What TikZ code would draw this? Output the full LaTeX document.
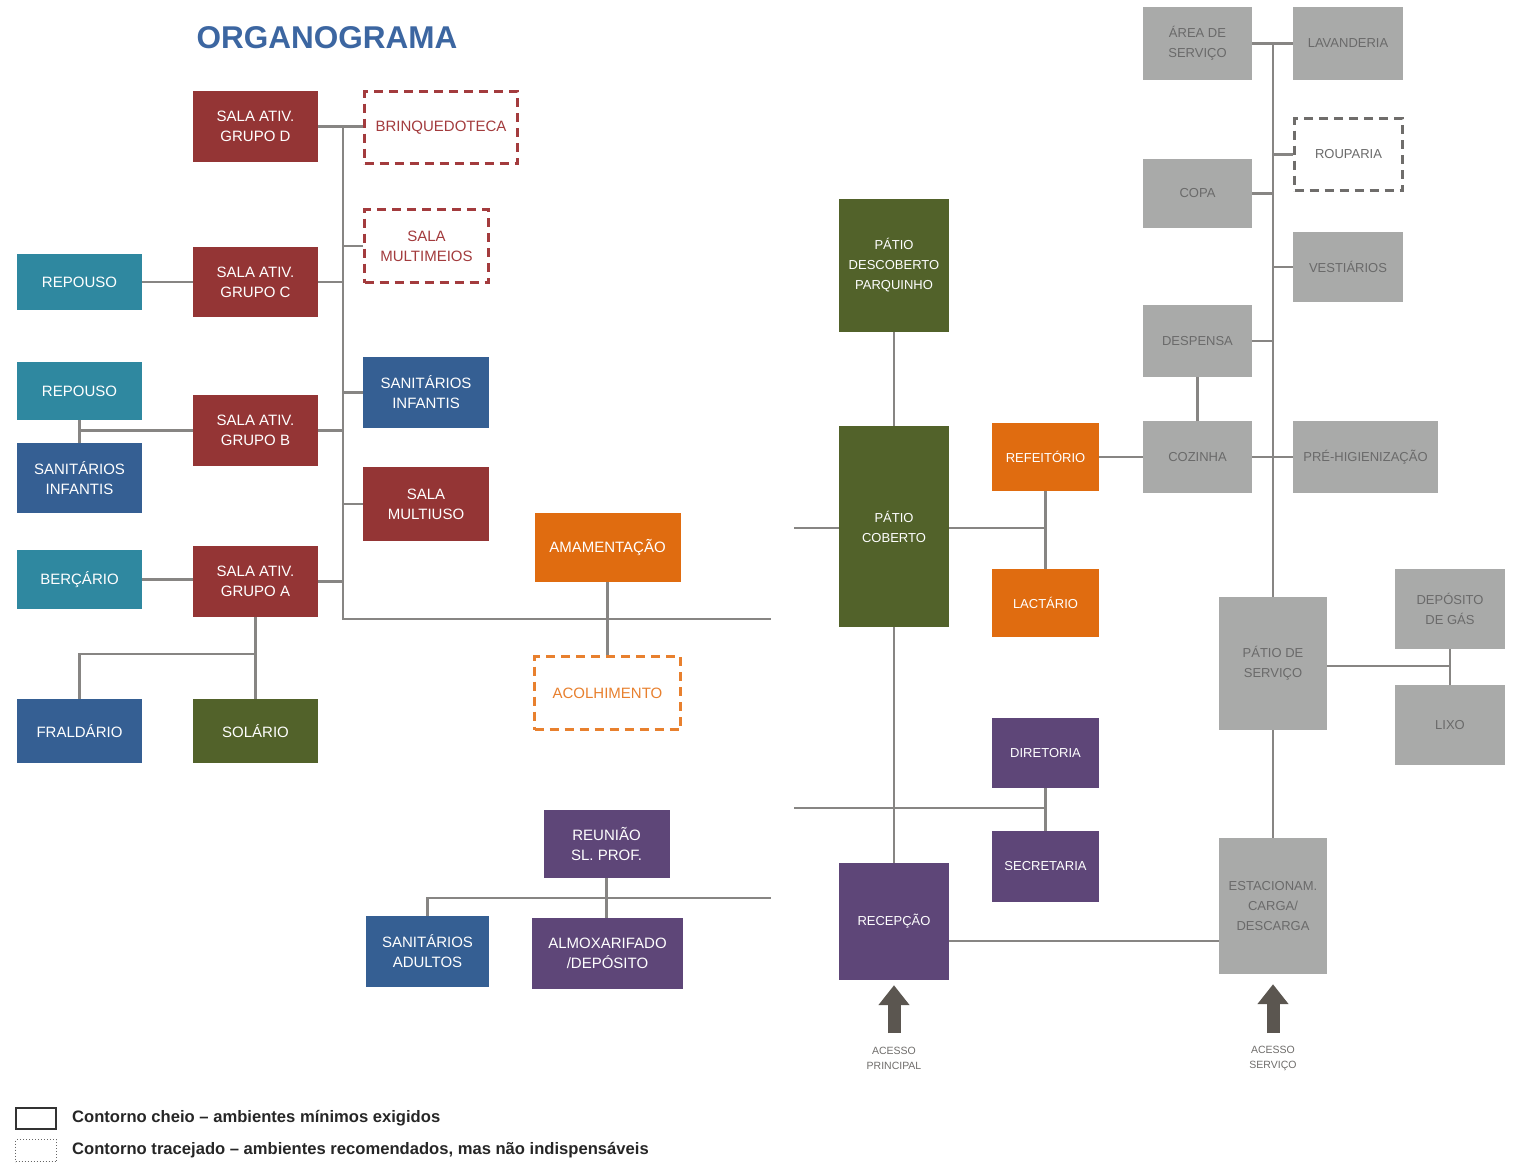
\documentclass[tikz,border=0pt]{standalone}
\usepackage{fontspec}
\setmainfont{Liberation Sans}
\usetikzlibrary{arrows.meta}
\definecolor{cRed}{HTML}{943535}
\definecolor{cRedD}{HTML}{A33B3D}
\definecolor{cTeal}{HTML}{2F88A0}
\definecolor{cBlue}{HTML}{355F93}
\definecolor{cGreen}{HTML}{52622A}
\definecolor{cOrange}{HTML}{E06C10}
\definecolor{cOrangeD}{HTML}{E8802E}
\definecolor{cPurple}{HTML}{5E4678}
\definecolor{cGray}{HTML}{A9AAA9}
\definecolor{cGrayT}{HTML}{6A6A6A}
\definecolor{cGrayD}{HTML}{6F6D6B}
\definecolor{cLine}{HTML}{878583}
\definecolor{cArrow}{HTML}{5B5650}
\definecolor{cTitle}{HTML}{3C66A1}
\tikzset{
  box/.style={rectangle, inner sep=0pt, align=center, text=white, font=\fontsize{15}{20}\selectfont},
  sbox/.style={box, font=\fontsize{13}{20}\selectfont},
  gbox/.style={sbox, fill=cGray, text=cGrayT},
  dbox/.style={rectangle, inner sep=0pt, align=center, fill=white, line width=3pt, dash pattern=on 9pt off 6pt, font=\fontsize{15}{20}\selectfont},
  conn/.style={draw=cLine, line width=2.6pt},
  accarrow/.style={draw=cArrow, line width=13pt, -{Triangle[width=30pt,length=20pt]}},
  acclabel/.style={inner sep=0pt, align=center, text=cGrayD, font=\fontsize{10.5}{15}\selectfont},
  legtext/.style={inner sep=0pt, anchor=west, text=black!85, font=\fontsize{16.6}{18}\selectfont\bfseries},
}
\begin{document}
\begin{tikzpicture}[x=1pt,y=-1pt]
\useasboundingbox (0,0) rectangle (1518,1163);

% title
\node[inner sep=0pt, text=cTitle, font=\fontsize{31.5}{34}\selectfont\bfseries] (title) at (327,38) {ORGANOGRAMA};

% ---------- left block ----------
\node[box, fill=cRed, minimum width=125, minimum height=71] (gD) at (255.5,126.5) {SALA ATIV.\\GRUPO D};
\node[dbox, draw=cRedD, text=cRedD, minimum width=153, minimum height=72] (brinq) at (441,127.5) {BRINQUEDOTECA};
\node[dbox, draw=cRedD, text=cRedD, minimum width=124, minimum height=73] (mmeios) at (426.5,246) {SALA\\MULTIMEIOS};
\node[box, fill=cTeal, minimum width=125, minimum height=56] (rep1) at (79.5,282) {REPOUSO};
\node[box, fill=cRed, minimum width=125, minimum height=70] (gC) at (255.5,282) {SALA ATIV.\\GRUPO C};
\node[box, fill=cTeal, minimum width=125, minimum height=58] (rep2) at (79.5,391) {REPOUSO};
\node[box, fill=cBlue, minimum width=125, minimum height=70] (sanL) at (79.5,478) {SANITÁRIOS\\INFANTIS};
\node[box, fill=cRed, minimum width=125, minimum height=71] (gB) at (255.5,430.5) {SALA ATIV.\\GRUPO B};
\node[box, fill=cBlue, minimum width=126, minimum height=71] (sanR) at (426,392.5) {SANITÁRIOS\\INFANTIS};
\node[box, fill=cRed, minimum width=126, minimum height=74] (muso) at (426,504) {SALA\\MULTIUSO};
\node[box, fill=cTeal, minimum width=125, minimum height=59] (berc) at (79.5,579.5) {BERÇÁRIO};
\node[box, fill=cRed, minimum width=125, minimum height=71] (gA) at (255.5,581.5) {SALA ATIV.\\GRUPO A};
\node[box, fill=cBlue, minimum width=125, minimum height=64] (fral) at (79.5,731) {FRALDÁRIO};
\node[box, fill=cGreen, minimum width=125, minimum height=64] (solar) at (255.5,731) {SOLÁRIO};
\node[box, fill=cOrange, minimum width=146, minimum height=69] (amam) at (607.5,547.5) {AMAMENTAÇÃO};
\node[dbox, draw=cOrangeD, text=cOrangeD, minimum width=146, minimum height=73] (acolh) at (607.5,693) {ACOLHIMENTO};
\node[box, fill=cPurple, minimum width=126, minimum height=68] (reun) at (606.5,844) {REUNIÃO\\SL. PROF.};
\node[box, fill=cBlue, minimum width=123, minimum height=71] (sanA) at (427.5,951.5) {SANITÁRIOS\\ADULTOS};
\node[box, fill=cPurple, minimum width=151, minimum height=71] (almox) at (607.5,953.5) {ALMOXARIFADO\\/DEPÓSITO};

% ---------- middle block ----------
\node[sbox, fill=cGreen, minimum width=110, minimum height=133] (pdesc) at (894,265.5) {PÁTIO\\DESCOBERTO\\PARQUINHO};
\node[sbox, fill=cGreen, minimum width=110, minimum height=201] (pcob) at (894,526.5) {PÁTIO\\COBERTO};
\node[sbox, fill=cOrange, minimum width=107, minimum height=68] (refe) at (1045.5,457) {REFEITÓRIO};
\node[sbox, fill=cOrange, minimum width=107, minimum height=68] (lact) at (1045.5,603) {LACTÁRIO};
\node[sbox, fill=cPurple, minimum width=107, minimum height=70] (dir) at (1045.5,753) {DIRETORIA};
\node[sbox, fill=cPurple, minimum width=107, minimum height=71] (sec) at (1045.5,866.5) {SECRETARIA};
\node[sbox, fill=cPurple, minimum width=110, minimum height=117] (recep) at (894,921.5) {RECEPÇÃO};

% ---------- right block ----------
\node[gbox, minimum width=109, minimum height=73] (area) at (1197.5,43.5) {ÁREA DE\\SERVIÇO};
\node[gbox, minimum width=110, minimum height=73] (lav) at (1348,43.5) {LAVANDERIA};
\node[dbox, draw=cGrayD, text=cGrayT, font=\fontsize{13}{20}\selectfont, minimum width=108, minimum height=72] (roup) at (1348.5,154.5) {ROUPARIA};
\node[gbox, minimum width=109, minimum height=69] (copa) at (1197.5,193.5) {COPA};
\node[gbox, minimum width=110, minimum height=70] (vest) at (1348,267) {VESTIÁRIOS};
\node[gbox, minimum width=109, minimum height=72] (desp) at (1197.5,341) {DESPENSA};
\node[gbox, minimum width=109, minimum height=72] (coz) at (1197.5,457) {COZINHA};
\node[gbox, minimum width=145, minimum height=72] (pre) at (1365.5,457) {PRÉ-HIGIENIZAÇÃO};
\node[gbox, minimum width=108, minimum height=133] (pserv) at (1273,663.5) {PÁTIO DE\\SERVIÇO};
\node[gbox, minimum width=110, minimum height=80] (gas) at (1450,609) {DEPÓSITO\\DE GÁS};
\node[gbox, minimum width=110, minimum height=80] (lixo) at (1450,725) {LIXO};
\node[gbox, minimum width=108, minimum height=136] (estac) at (1273,906) {ESTACIONAM.\\CARGA/\\DESCARGA};

% ---------- helper coordinates ----------
\coordinate (tTop) at (343,127);
\coordinate (tBot) at (343,619);
\coordinate (tEnd) at (771,619);
\coordinate (y654) at (0,654);
\coordinate (h898) at (771,898);
\coordinate (m528) at (794,528);
\coordinate (m808) at (794,808);
\coordinate (y941) at (0,941);
\coordinate (y666) at (0,666);
\coordinate (arrP) at (894,1033);
\coordinate (arrS) at (1273,1033);

% ---------- connectors: left ----------
\draw[conn] (gD.east) -- (gD.east -| brinq.west);
\draw[conn] (tTop) -- (tBot) -- (tEnd);
\draw[conn] (mmeios.west) -- (mmeios.west -| tTop);
\draw[conn] (rep1.east) -- (rep1.east -| gC.west);
\draw[conn] (gC.east) -- (gC.east -| tTop);
\draw[conn] (rep2.south) -- (sanL.north);
\draw[conn] (rep2.south |- gB.west) -- (gB.west);
\draw[conn] (gB.east) -- (gB.east -| tTop);
\draw[conn] (sanR.west) -- (sanR.west -| tTop);
\draw[conn] (muso.west) -- (muso.west -| tTop);
\draw[conn] (berc.east) -- (berc.east -| gA.west);
\draw[conn] (gA.east) -- (gA.east -| tTop);
\draw[conn] (gA.south) -- (solar.north);
\draw[conn] (fral.north) |- (gA.south |- y654);
\draw[conn] (amam.south) -- (amam.south |- acolh.north);
\draw[conn] (reun.south) -- (reun.south |- almox.north);
\draw[conn] (sanA.north) |- (h898);

% ---------- connectors: middle ----------
\draw[conn] (pdesc.south) -- (pcob.north);
\draw[conn] (m528) -- (m528 -| pcob.west);
\draw[conn] (pcob.east |- m528) -- (refe.south |- m528);
\draw[conn] (refe.south) -- (lact.north);
\draw[conn] (refe.east) -- (coz.west);
\draw[conn] (pcob.south) -- (recep.north);
\draw[conn] (m808) -- (dir.south |- m808);
\draw[conn] (dir.south) -- (sec.north);
\draw[conn] (recep.east |- y941) -- (estac.west |- y941);

% ---------- connectors: right ----------
\draw[conn] (area.east) -- (lav.west);
\draw[conn] (area.east -| pserv.north) -- (pserv.north);
\draw[conn] (roup.west) -- (roup.west -| pserv.north);
\draw[conn] (copa.east) -- (copa.east -| pserv.north);
\draw[conn] (vest.west) -- (vest.west -| pserv.north);
\draw[conn] (desp.east) -- (desp.east -| pserv.north);
\draw[conn] (desp.south) -- (coz.north);
\draw[conn] (coz.east) -- (pre.west);
\draw[conn] (pserv.south) -- (estac.north);
\draw[conn] (gas.south) -- (lixo.north);
\draw[conn] (pserv.east |- y666) -- (gas.south |- y666);

% ---------- access arrows ----------
\draw[accarrow, shorten >=5pt] (arrP) -- (recep.south);
\draw[accarrow, shorten >=10pt] (arrS) -- (estac.south);
\node[acclabel] (accP) at (894,1058) {ACESSO\\PRINCIPAL};
\node[acclabel] (accS) at (1273,1058) {ACESSO\\SERVIÇO};

% ---------- legend ----------
\node[draw=black!80, line width=2pt, minimum width=40, minimum height=21, inner sep=0pt] (legS) at (36,1118.5) {};
\node[draw=black!60, line width=1pt, dotted, minimum width=41, minimum height=22, inner sep=0pt] (legD) at (36,1150.5) {};
\node[legtext] (legT1) at (72,1118) {Contorno cheio – ambientes mínimos exigidos};
\node[legtext] (legT2) at (72,1150) {Contorno tracejado – ambientes recomendados, mas não indispensáveis};
\end{tikzpicture}
\end{document}
